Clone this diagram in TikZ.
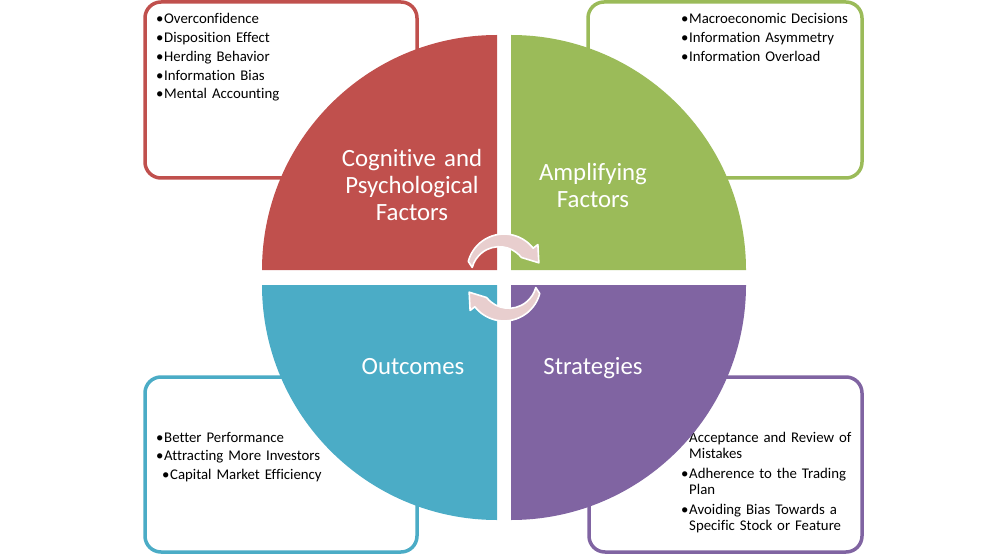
\documentclass[tikz,border=0pt]{standalone}
\usepackage{fontspec}
\setmainfont{Carlito}[Ligatures=NoCommon]
\usetikzlibrary{calc}
\definecolor{cogred}{RGB}{192,80,77}
\definecolor{ampgreen}{RGB}{155,187,89}
\definecolor{outteal}{RGB}{75,172,198}
\definecolor{strpurple}{RGB}{128,100,162}
\definecolor{cyclepink}{RGB}{232,206,206}
\newcommand\bul{\makebox[7pt][l]{\kern-1.2pt\textbullet}}
\newcommand\hang{\hspace*{7pt}}
\newcommand\rad{235}

\begin{document}
\begin{tikzpicture}[x=1pt, y=1pt,
    box/.style={line width=3.5pt, rounded corners=16pt, fill=white},
    list/.style={inner sep=0, anchor=base west, text width=200pt, align=left,
      font=\fontsize{14.8}{16}\selectfont},
    title/.style={inner sep=0, anchor=base, text width=190pt, align=center,
      text=white, font=\fontsize{24.8}{27}\selectfont},
    cyc/.style={fill=cyclepink, draw=white, line width=1.6pt, line join=round}
  ]
    \useasboundingbox (0,0) rectangle (1006,555);

    % boxes and their lists
    \draw[box, draw=cogred] (145,377) rectangle (417,553);
    \draw[box, draw=ampgreen] (588,377) rectangle (862,553);
    \draw[box, draw=outteal] (145,3) rectangle (417,178);
    \draw[box, draw=strpurple] (589,3) rectangle (862,178);

    \node[list] (coglist) at (157,531) {\bul Overconfidence\\[2.75pt]
      \bul Disposition Effect\\[2.75pt] \bul Herding Behavior\\[2.75pt]
      \bul Information Bias\\[2.75pt] \bul Mental Accounting};
    \node[list] (amplist) at (682,531) {\bul Macroeconomic Decisions\\[2.75pt]
      \bul Information Asymmetry\\[2.75pt] \bul Information Overload};
    \node[list] (outlist) at (157,113) {\bul Better Performance\\[2.5pt]
      \bul Attracting More Investors\\[2.5pt]
      \hspace*{6pt}\bul Capital Market Efficiency};
    \node[list] (strlist) at (682,113) {\bul Acceptance and Review of\\
      \hang Mistakes\\[4pt] \bul Adherence to the Trading\\ \hang Plan\\[4pt]
      \bul Avoiding Bias Towards a\\ \hang Specific Stock or Feature};

    % the four quarters
    \fill[cogred] (497,285) -- (497-\rad,285) arc[start angle=180, end angle=90, radius=\rad] -- cycle;
    \fill[ampgreen] (511,285) -- (511,285+\rad) arc[start angle=90, end angle=0, radius=\rad] -- cycle;
    \fill[outteal] (497,270) -- (497,270-\rad) arc[start angle=270, end angle=180, radius=\rad] -- cycle;
    \fill[strpurple] (511,270) -- (511+\rad,270) arc[start angle=0, end angle=-90, radius=\rad] -- cycle;

    \node[title] (cogtitle) at (412,388) {Cognitive and\\Psychological\\Factors};
    \node[title] (amptitle) at (593,374) {Amplifying\\Factors};
    \node[title] (outtitle) at (413,181) {Outcomes};
    \node[title] (strtitle) at (593,181) {Strategies};

    % cycle arrows
    \coordinate (ca) at (504,284);
    \coordinate (cb) at (504,271);
    \filldraw[cyc] ($(ca)+(165:37)$) arc[start angle=165, end angle=38, radius=37]
      -- ($(ca)+(38:43)$) -- ($(ca)+(38:32.5)+(-52:15)$) -- ($(ca)+(38:22)$)
      arc[start angle=38, end angle=165, radius=28] -- cycle;
    \filldraw[cyc] ($(cb)+(-15:37)$) arc[start angle=-15, end angle=-142, radius=37]
      -- ($(cb)+(-142:43)$) -- ($(cb)+(-142:32.5)+(128:15)$) -- ($(cb)+(-142:22)$)
      arc[start angle=-142, end angle=-15, radius=28] -- cycle;
\end{tikzpicture}
\end{document}
